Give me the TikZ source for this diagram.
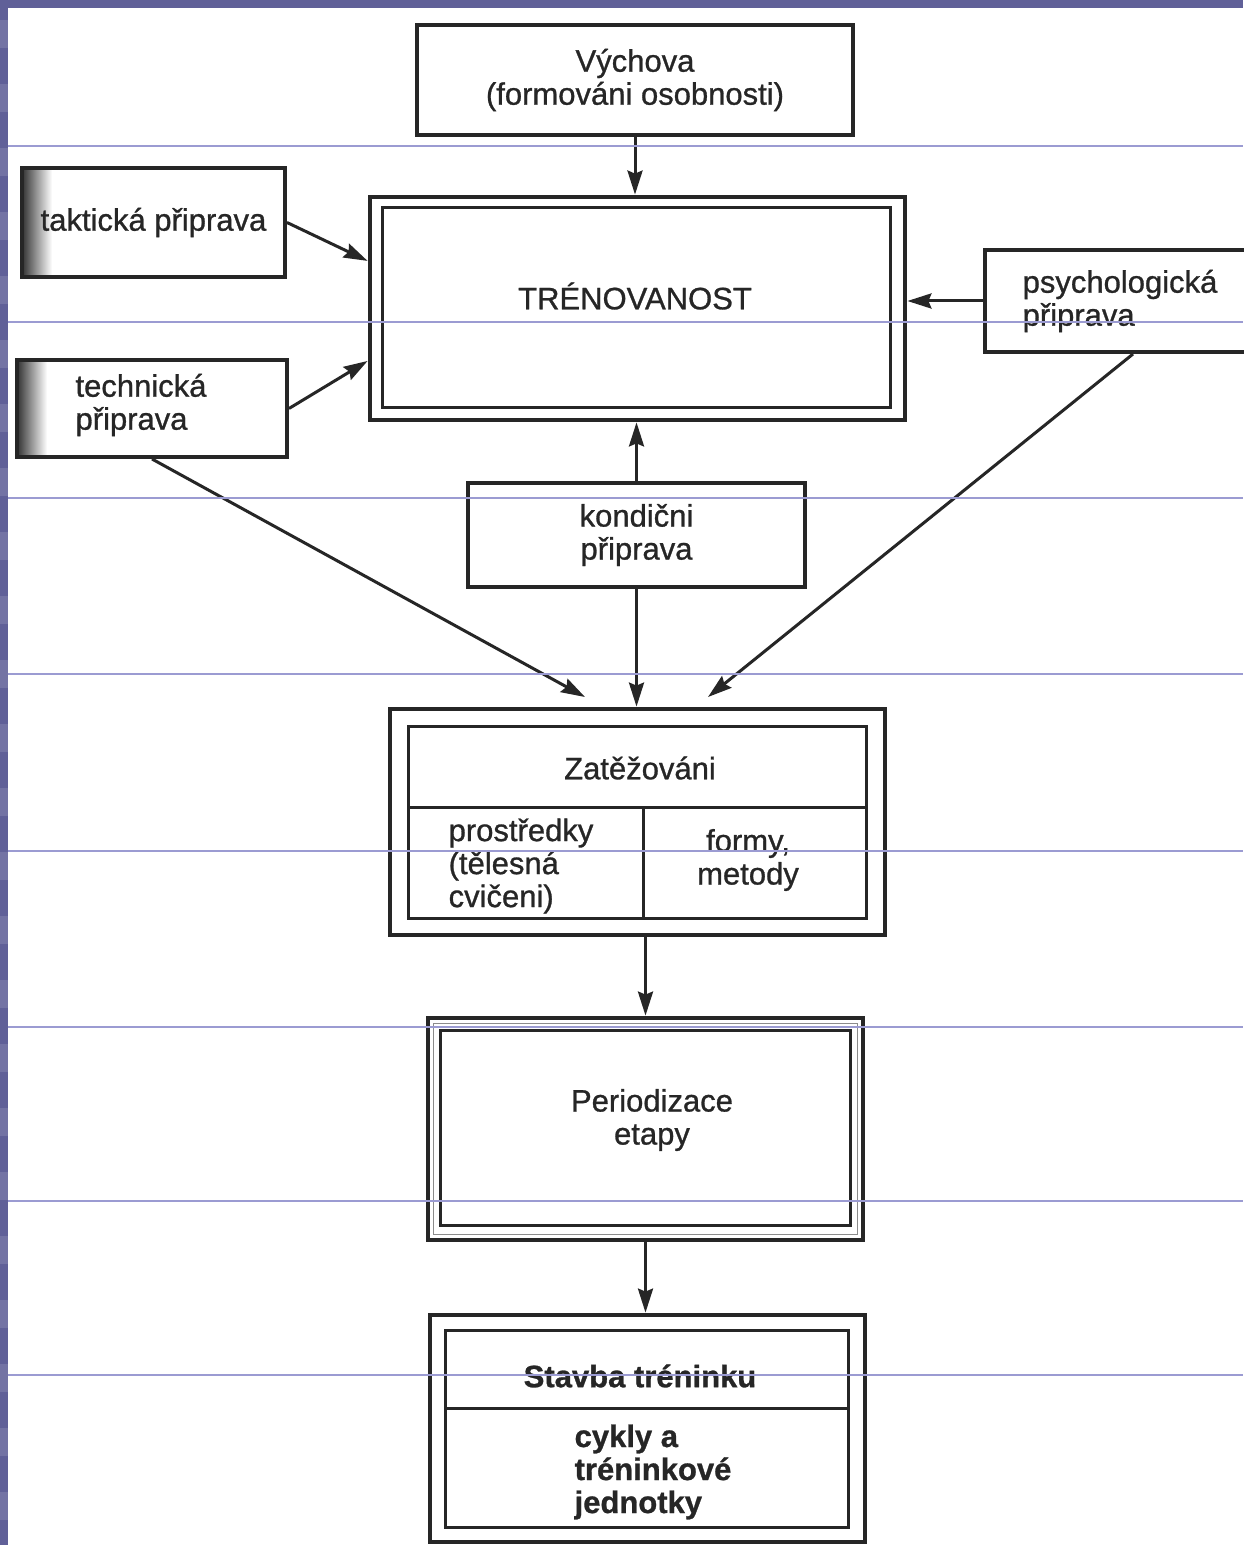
\documentclass[tikz,border=0pt]{standalone}
\usepackage{fontspec}
\setmainfont{Liberation Sans}[FakeBold=0.9]
\usetikzlibrary{calc,arrows.meta}

\definecolor{slide}{RGB}{96,96,152}
\definecolor{rule}{RGB}{155,155,210}
\definecolor{ink}{RGB}{38,38,38}

\begin{document}
\begin{tikzpicture}[x=0.5pt,y=-0.5pt,
  box/.style={draw=ink,line width=2pt,inner sep=0pt,font=\fontsize{15.5}{16.5}\selectfont,text=ink},
  outbox/.style={box,line width=2.4pt},
  inbox/.style={draw=ink,line width=1.5pt},
  lbl/.style={inner sep=0pt,font=\fontsize{15.5}{16.5}\selectfont,text=ink},
  arr/.style={draw=ink,line width=1.5pt,-{Stealth[length=12pt,width=7.5pt,inset=1.5pt]}}]
\useasboundingbox (0,0) rectangle (1243,1545);
\fill[white] (0,0) rectangle (1243,1545);

\shade[left color=black!75,right color=white] (24,170) rectangle (52,275);
\shade[left color=black!75,right color=white] (19,362) rectangle (47,455);

\node[box,minimum width=218pt,minimum height=55pt,align=center] (vych) at (635,80) {Výchova\\(formováni osobnosti)};

\node[outbox,minimum width=267.5pt,minimum height=111.5pt] (tren) at (637.5,308.5) {};
\draw[inbox] ($(tren.north west)+(15,13)$) rectangle ($(tren.south east)+(-17,-15)$);
\node[lbl] (trenlbl) at (635,296) {TRÉNOVANOST};

\node[box,minimum width=131.5pt,minimum height=54.5pt] (takt) at (153.5,222.5) {taktická připrava};
\node[box,minimum width=135pt,minimum height=48.5pt] (tech) at (152,408.5) {};
\node[lbl,align=left] (techlbl) at (141,405) {technická\\připrava};
\node[box,minimum width=135pt,minimum height=51pt,align=left] (psych) at (1120,301) {psychologická\\připrava};

\node[box,minimum width=168.5pt,minimum height=52pt,align=center] (kond) at (636.5,535) {kondični\\připrava};

\node[outbox,minimum width=247.5pt,minimum height=113pt] (zat) at (637.5,822) {};
\draw[inbox] (408,726) rectangle (866,918);
\draw[inbox] (408,807) -- (866,807);
\draw[inbox] (643,807) -- (643,918);
\node[lbl] (zattop) at (640,768) {Zatěžováni};
\node[lbl,align=left] (zatleft) at (521,866) {prostředky\\(tělesná\\cvičeni)};
\node[lbl,align=center] (zatright) at (748,860) {formy,\\metody};

\node[outbox,minimum width=217.5pt,minimum height=111pt] (per) at (645.5,1129) {};
\draw[black!45,line width=0.5pt] ($(per.north west)+(8,8)$) rectangle ($(per.south east)+(-8,-8)$);
\draw[inbox] ($(per.north west)+(15,15)$) rectangle ($(per.south east)+(-15,-17)$);
\node[lbl,align=center] (perlbl) at (652,1120) {Periodizace\\etapy};

\node[outbox,minimum width=217.5pt,minimum height=113.5pt] (stav) at (647.5,1428.5) {};
\draw[inbox] (445,1330) rectangle (848,1527);
\draw[inbox] (445,1408) -- (848,1408);
\node[lbl,font=\fontsize{15.5}{16.5}\selectfont\bfseries] (stavtop) at (640,1376) {Stavba tréninku};
\node[lbl,align=left,font=\fontsize{15.5}{16.5}\selectfont\bfseries] (stavbot) at (653,1472) {cykly a\\tréninkové\\jednotky};

\coordinate (techin) at (585,697);
\coordinate (psychin) at (708,697);

\draw[arr] (vych.south) -- (vych.south |- tren.north);
\draw[arr] (takt.east) -- (tren.170);
\draw[arr] (tech.east) -- (tren.191);
\draw[arr] (psych.west) -- (psych.west -| tren.east);
\draw[arr] (kond.north) -- (kond.north |- tren.south);
\draw[arr] (tech.south) -- (techin);
\draw[arr] (kond.south) -- (kond.south |- zat.north);
\draw[arr] ($(psych.south)+(13,0)$) -- (psychin);
\draw[arr] (per.north |- zat.south) -- (per.north);
\draw[arr] (per.south) -- (per.south |- stav.north);

\fill[slide] (0,0) rectangle (8,1545);
\fill[slide] (0,0) rectangle (1243,8);
\foreach \sy in {20,84,...,1545}
  \fill[slide!88!white] (0,\sy) rectangle (8,\sy+28);
\foreach \ly in {146,322,498,674,851,1027,1201,1375}
  \draw[rule,line width=0.6pt] (8,\ly) -- (1243,\ly);
\end{tikzpicture}
\end{document}
